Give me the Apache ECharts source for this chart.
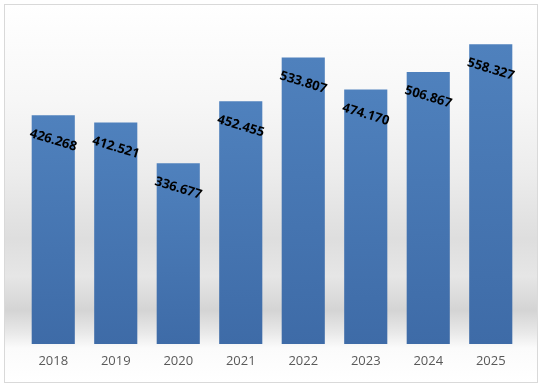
<!DOCTYPE html>
<html>
<head>
<meta charset="utf-8">
<script src="https://cdn.jsdelivr.net/npm/echarts@6/dist/echarts.min.js"></script>
<style>
html,body{margin:0;padding:0;background:#fff;}
#frame{position:absolute;left:4px;top:4px;width:532px;height:377px;border:1px solid #d9d9d9;
background:linear-gradient(to bottom,#ffffff 0%,#f7f7f7 25%,#ececec 45%,#dedede 62%,#e6e6e6 72%,#d4d4d4 81%,#e9e9e9 87%,#fbfbfb 91%,#ffffff 100%);}
#chart{position:absolute;left:0;top:0;width:542px;height:385px;}
</style>
</head>
<body>
<div id="frame"></div>
<div id="chart"></div>
<script>
const categories = ['2018','2019','2020','2021','2022','2023','2024','2025'];
const values = [426.268, 412.521, 336.677, 452.455, 533.807, 474.170, 506.867, 558.327];
const labelTexts = ['426.268','412.521','336.677','452.455','533.807','474.170','506.867','558.327'];

const chart = echarts.init(document.getElementById('chart'), null, {renderer:'canvas'});
chart.setOption({
  backgroundColor: 'transparent',
  animation: false,
  grid: {left: 22, right: 20, top: 22, bottom: 41, containLabel: false},
  xAxis: {
    type: 'category',
    data: categories,
    axisLine: {show: false},
    axisTick: {show: false},
    axisLabel: {color: '#595959', fontSize: 13, fontFamily: 'Open Sans', margin: 11}
  },
  yAxis: {
    type: 'value', min: 0, max: 600, show: false,
    splitLine: {show: false}
  },
  series: [{
    type: 'bar',
    data: values,
    barCategoryGap: '31%',
    itemStyle: {
      color: new echarts.graphic.LinearGradient(0,0,0,1,[
        {offset:0,color:'#4f81bd'},{offset:1,color:'#3e6ba7'}
      ])
    },
    label: {
      show: true,
      position: 'insideTop',
      distance: 25,
      rotate: -17,
      align: 'center',
      verticalAlign: 'middle',
      color: '#000',
      fontWeight: 'bold',
      fontSize: 13,
      fontFamily: 'Open Sans',
      formatter: p => labelTexts[p.dataIndex]
    }
  }]
});
</script>
</body>
</html>
